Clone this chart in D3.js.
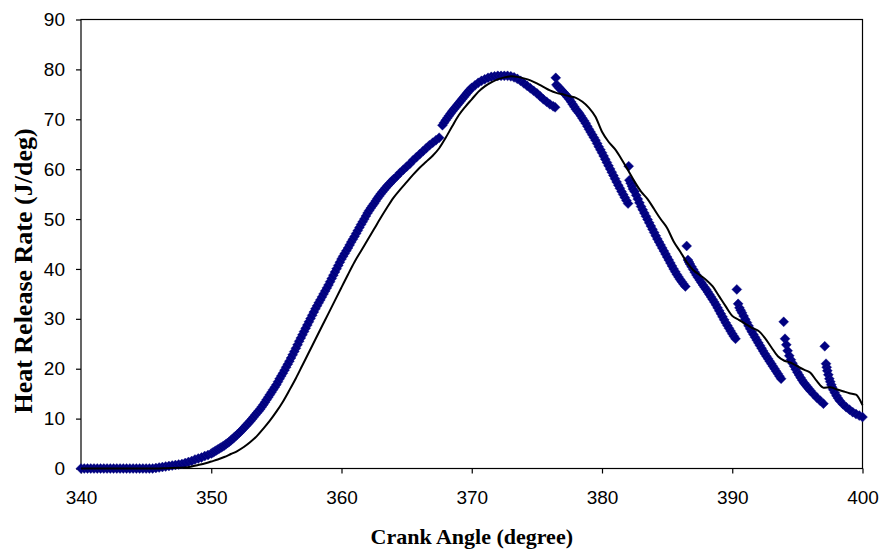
<!DOCTYPE html>
<html><head><meta charset="utf-8">
<script src="https://cdn.jsdelivr.net/npm/d3@7/dist/d3.min.js"></script>
<style>body{margin:0;background:#fff}svg{display:block}</style>
</head><body><svg id="c" width="881" height="551"></svg>
<script>
const xTicks=[340,350,360,370,380,390,400];
const yTicks=[0,10,20,30,40,50,60,70,80,90];
const xTitle="Crank Angle (degree)";
const yTitle="Heat Release Rate (J/deg)";

// Experimental heat release rate (diamond markers): [crank angle, J/deg]
const experimental=[
[340,0],[340.25,0],[340.5,0],[340.75,0],[341,0],[341.25,0],[341.5,0],[341.75,0],[342,0],[342.25,0],[342.5,0],[342.75,0],
[343,0],[343.25,0],[343.5,0],[343.75,0],[344,0],[344.25,0],[344.5,0],[344.75,0],[345,0],[345.25,0],[345.5,0],
[345.75,0.1],[346,0.2],[346.25,0.3],[346.5,0.4],[346.75,0.5],[347,0.6],[347.25,0.7],[347.5,0.8],[347.75,0.9],
[348,1.1],[348.25,1.3],[348.5,1.5],[348.75,1.8],[349,2.0],[349.25,2.2],[349.5,2.5],[349.75,2.7],
[350,3.0],[350.125,3.2],[350.25,3.4],[350.375,3.6],[350.5,3.8],[350.625,4.0],[350.75,4.2],[350.875,4.4],
[351,4.6],[351.125,4.85],[351.25,5.1],[351.375,5.35],[351.5,5.6],[351.625,5.9],[351.75,6.2],[351.875,6.5],
[352,6.8],[352.125,7.1],[352.25,7.4],[352.375,7.75],[352.5,8.1],[352.625,8.45],[352.75,8.8],[352.875,9.15],
[353,9.5],[353.125,9.9],[353.25,10.3],[353.375,10.7],[353.5,11.1],[353.625,11.5],[353.75,11.9],[353.875,12.35],
[354,12.8],[354.125,13.3],[354.25,13.8],[354.375,14.3],[354.5,14.8],[354.625,15.3],[354.75,15.8],[354.875,16.3],
[355,16.8],[355.125,17.4],[355.25,18.0],[355.375,18.55],[355.5,19.1],[355.625,19.7],[355.75,20.3],[355.875,20.9],
[356,21.5],[356.125,22.15],[356.25,22.8],[356.375,23.45],[356.5,24.1],[356.625,24.8],[356.75,25.5],[356.875,26.15],
[357,26.8],[357.125,27.45],[357.25,28.1],[357.375,28.75],[357.5,29.4],[357.625,30.05],[357.75,30.7],[357.875,31.35],
[358,32.0],[358.125,32.6],[358.25,33.2],[358.375,33.8],[358.5,34.4],[358.625,35.0],[358.75,35.6],[358.875,36.2],
[359,36.8],[359.125,37.45],[359.25,38.1],[359.375,38.75],[359.5,39.4],[359.625,40.05],[359.75,40.7],[359.875,41.35],
[360,42.0],[360.125,42.55],[360.25,43.1],[360.375,43.65],[360.5,44.2],[360.625,44.8],[360.75,45.4],[360.875,45.95],
[361,46.5],[361.125,47.1],[361.25,47.7],[361.375,48.3],[361.5,48.9],[361.625,49.45],[361.75,50.0],[361.875,50.6],
[362,51.2],[362.125,51.7],[362.25,52.2],[362.375,52.65],[362.5,53.1],[362.625,53.6],[362.75,54.1],[362.875,54.55],
[363,55.0],[363.125,55.4],[363.25,55.8],[363.375,56.2],[363.5,56.6],[363.625,56.95],[363.75,57.3],[363.875,57.65],
[364,58.0],[364.25,58.6],[364.5,59.3],[364.75,59.9],[365,60.5],[365.25,61.1],[365.5,61.8],[365.75,62.4],
[366,63.0],[366.25,63.6],[366.5,64.2],[366.75,64.8],[367,65.3],[367.25,65.8],[367.5,66.3],
[367.75,68.8],[367.875,69.3],[368,69.8],[368.125,70.25],[368.25,70.7],[368.375,71.15],[368.5,71.6],[368.625,72.0],
[368.75,72.4],[368.875,72.8],[369,73.2],[369.125,73.6],[369.25,74.0],[369.375,74.4],[369.5,74.8],[369.625,75.2],
[369.75,75.6],[369.875,75.95],[370,76.3],[370.25,76.8],[370.5,77.3],[370.75,77.7],[371,78.0],[371.25,78.3],
[371.5,78.5],[371.75,78.6],[372,78.7],[372.25,78.7],[372.5,78.7],[372.75,78.7],[373,78.6],[373.25,78.4],
[373.5,78.1],[373.75,77.7],[374,77.2],[374.25,76.7],[374.5,76.2],[374.75,75.7],[375,75.2],[375.25,74.6],
[375.5,74.0],[375.75,73.5],[376,73.0],[376.25,72.6],[376.4,72.4],
[376.45,78.3],
[376.5,76.9],[376.625,76.55],[376.75,76.2],[376.875,75.85],[377,75.5],[377.125,75.15],[377.25,74.8],[377.375,74.4],
[377.5,74.0],[377.625,73.5],[377.75,73.0],[377.875,72.5],[378,72.0],[378.125,71.6],[378.25,71.2],[378.375,70.7],
[378.5,70.2],[378.625,69.7],[378.75,69.2],[378.875,68.6],[379,68.0],[379.125,67.45],[379.25,66.9],[379.375,66.35],
[379.5,65.8],[379.625,65.15],[379.75,64.5],[379.875,63.9],[380,63.3],[380.125,62.65],[380.25,62.0],[380.375,61.35],
[380.5,60.7],[380.625,60.05],[380.75,59.4],[380.875,58.75],[381,58.1],[381.125,57.45],[381.25,56.8],[381.375,56.15],
[381.5,55.5],[381.625,54.9],[381.75,54.3],[381.875,53.7],[382,53.1],
[382.05,60.6],
[382.1,57.8],[382.2,57.2],[382.3,56.6],[382.375,56.0],[382.5,55.5],[382.625,54.75],[382.75,54.0],[382.875,53.25],
[383,52.5],[383.125,51.85],[383.25,51.2],[383.375,50.55],[383.5,49.9],[383.625,49.25],[383.75,48.6],[383.875,47.95],
[384,47.3],[384.125,46.65],[384.25,46.0],[384.375,45.4],[384.5,44.8],[384.625,44.2],[384.75,43.6],[384.875,43.0],
[385,42.4],[385.125,41.8],[385.25,41.2],[385.375,40.6],[385.5,40.0],[385.625,39.45],[385.75,38.9],[385.875,38.4],
[386,37.9],[386.125,37.45],[386.25,37.0],[386.4,36.5],
[386.5,44.6],
[386.6,41.8],[386.675,41.4],[386.75,41.0],[386.875,40.45],[387,39.9],[387.125,39.35],[387.25,38.8],[387.375,38.3],
[387.5,37.8],[387.625,37.3],[387.75,36.8],[387.875,36.35],[388,35.9],[388.125,35.4],[388.25,34.9],[388.375,34.4],
[388.5,33.9],[388.625,33.35],[388.75,32.8],[388.875,32.2],[389,31.6],[389.125,31.0],[389.25,30.4],[389.375,29.8],
[389.5,29.2],[389.625,28.65],[389.75,28.1],[389.875,27.55],[390,27.0],[390.125,26.5],[390.25,26.0],
[390.35,35.9],
[390.45,33.0],[390.55,32.2],[390.65,31.7],[390.75,31.2],[390.875,30.55],[391,29.9],[391.125,29.25],[391.25,28.6],
[391.375,28.0],[391.5,27.4],[391.625,26.85],[391.75,26.3],[391.875,25.75],[392,25.2],[392.125,24.65],[392.25,24.1],
[392.375,23.55],[392.5,23.0],[392.625,22.5],[392.75,22.0],[392.875,21.5],[393,21.0],[393.125,20.5],[393.25,20.0],
[393.375,19.5],[393.5,19.0],[393.625,18.5],[393.75,18.0],
[393.95,29.4],
[394.05,26.0],[394.15,24.8],[394.25,23.6],[394.375,22.6],[394.5,21.8],[394.625,21.1],[394.75,20.5],[394.875,19.9],
[395,19.3],[395.125,18.75],[395.25,18.2],[395.375,17.7],[395.5,17.2],[395.625,16.8],[395.75,16.4],[395.875,16.0],
[396,15.6],[396.25,14.9],[396.5,14.2],[396.75,13.6],[397,13.0],
[397.1,24.5],
[397.2,21.0],[397.25,20.3],[397.3,19.6],[397.375,18.8],[397.45,18.0],[397.525,17.4],[397.6,16.8],[397.675,16.3],
[397.75,15.8],[397.875,15.2],[398,14.6],[398.125,14.1],[398.25,13.6],[398.5,12.9],[398.75,12.3],[399,11.8],
[399.25,11.3],[399.5,10.9],[399.75,10.6],[400,10.3]];

// Simulated heat release rate (solid line)
const simAngle=[
340,340.5,341,341.5,342,342.5,343,343.5,344,344.5,345,345.5,346,346.5,347,347.5,348,348.5,349,349.5,
350,350.5,351,351.5,352,352.5,353,353.5,354,354.5,355,355.5,356,356.5,357,357.5,358,358.5,359,359.5,
360,360.5,361,361.5,362,362.5,363,363.5,364,364.5,365,365.5,366,366.5,367,367.5,368,368.5,369,369.5,
370,370.5,371,371.5,372,372.5,373,373.5,374,374.5,375,375.5,376,376.5,377,377.5,378,378.5,379,379.5,
380,380.5,381,381.5,382,382.5,383,383.5,384,384.5,385,385.5,386,386.5,387,387.5,388,388.5,389,389.5,
390,390.5,391,391.5,392,392.5,393,393.5,394,394.5,395,395.5,396,396.5,397,397.5,398,398.5,399,399.5,400];
const simHRR=[
0,0,0,0,0,0,0,0,0,0,0,0,0,0.05,0.1,0.15,0.2,0.4,0.7,1.0,
1.4,1.8,2.3,2.9,3.5,4.3,5.3,6.5,8.0,9.6,11.4,13.4,15.7,18.1,20.7,23.3,25.9,28.5,31.1,33.7,
36.3,38.9,41.4,43.6,45.8,48.0,50.2,52.3,54.3,55.9,57.4,58.9,60.3,61.5,62.7,64.2,66.3,68.6,70.8,72.5,
74.0,75.5,76.6,77.4,78.0,78.4,78.6,78.5,78.2,77.8,77.2,76.5,75.8,75.3,75.0,74.6,74.3,73.5,72.3,70.5,
67.5,65.5,64.0,62.0,59.8,57.5,55.5,54.0,52.0,50.0,48.2,45.5,43.5,41.4,39.8,38.8,37.8,36.5,34.5,32.5,
30.6,29.8,29.0,28.2,27.6,26.2,24.3,22.5,21.6,21.2,20.5,19.8,19.2,17.5,16.2,16.3,15.9,15.5,15.1,14.8,12.7];

const svg=d3.select("#c");
const L=81,R=862.5,T=19.5,B=468.5;
const x=d3.scaleLinear().domain([340,400]).range([L,R]);
const y=d3.scaleLinear().domain([0,90]).range([B,T]);
const tickFont='"Liberation Sans", Arial, sans-serif';
const titleFont='"Liberation Serif", "Times New Roman", serif';

// plot frame
svg.append("rect").attr("x",L).attr("y",T).attr("width",R-L).attr("height",B-T)
  .attr("fill","none").attr("stroke","#000").attr("stroke-width",1.2);

const gx=svg.append("g").attr("transform",`translate(0,${B})`)
  .call(d3.axisBottom(x).tickValues(xTicks).tickSize(5).tickPadding(17).tickFormat(d3.format("d")));
const gy=svg.append("g").attr("transform",`translate(${L},0)`)
  .call(d3.axisLeft(y).tickValues(yTicks).tickSize(5).tickPadding(11).tickFormat(d3.format("d")));
[gx,gy].forEach(g=>{
  g.select(".domain").remove();
  g.selectAll(".tick line").attr("stroke","#000").attr("stroke-width",1.2);
  g.selectAll("text").attr("fill","#000").style("font-family",tickFont).style("font-size","19px");
});

// experimental diamonds
const r=5;
const diamond=`M0,${-r}L${r},0L0,${r}L${-r},0Z`;
svg.append("g").selectAll("path").data(experimental).join("path")
  .attr("d",diamond)
  .attr("transform",d=>`translate(${x(d[0])},${y(d[1])})`)
  .attr("fill","#000080").attr("stroke","#1a1a8c").attr("stroke-width",0.4);

// simulated line
const simPts=simAngle.map((a,i)=>[a,simHRR[i]]);
svg.append("path").datum(simPts)
  .attr("d",d3.line().x(d=>x(d[0])).y(d=>y(d[1])).curve(d3.curveMonotoneX))
  .attr("fill","none").attr("stroke","#000").attr("stroke-width",2).attr("stroke-linejoin","round");

// titles
svg.append("text").attr("x",(L+R)/2).attr("y",544).attr("text-anchor","middle")
  .style("font-family",titleFont).style("font-weight","bold").style("font-size","22px").text(xTitle);
svg.append("text").attr("transform","translate(32,271) rotate(-90)").attr("text-anchor","middle")
  .style("font-family",titleFont).style("font-weight","bold").style("font-size","26px").text(yTitle);
</script>
</body></html>
